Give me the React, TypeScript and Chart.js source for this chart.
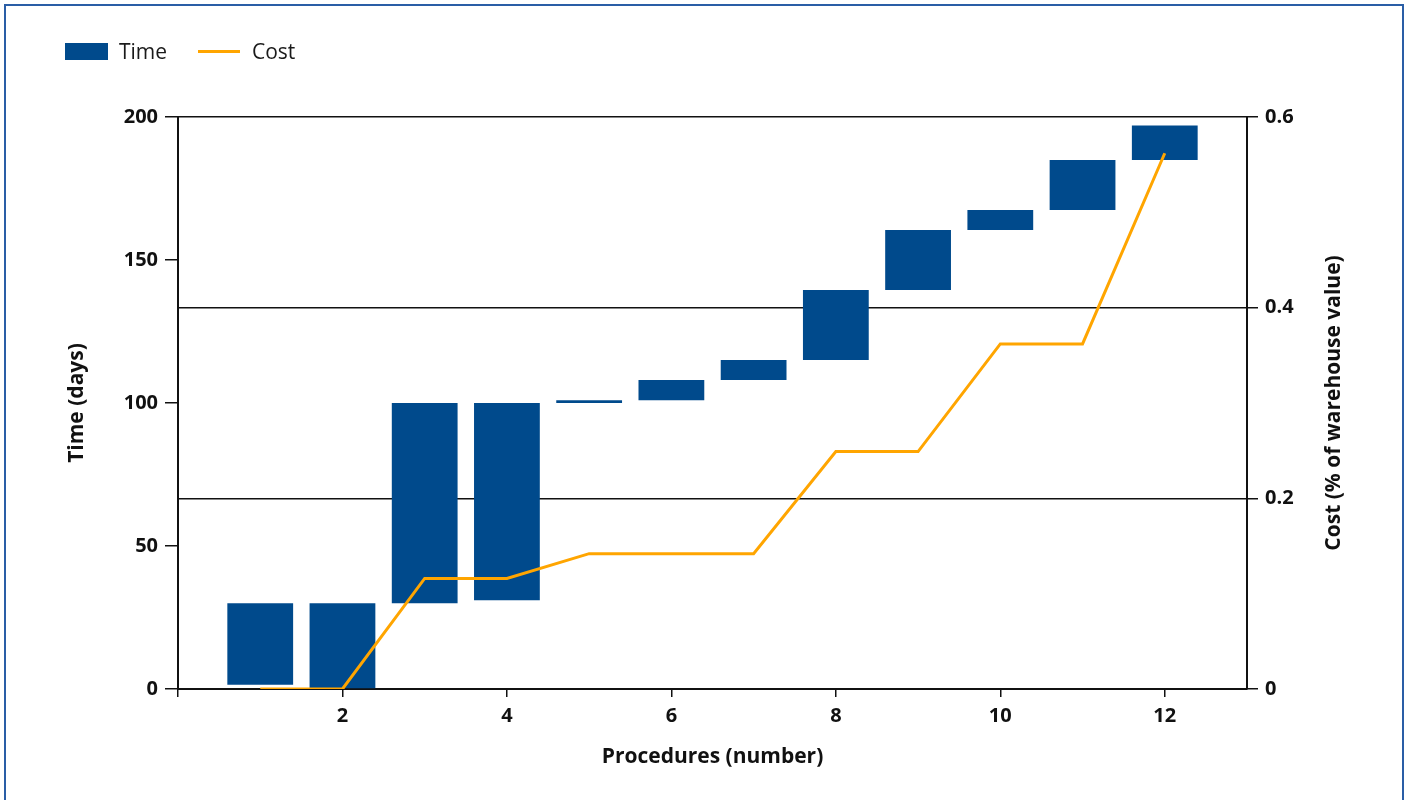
import React, { useEffect, useRef } from 'react';
import { Chart, registerables } from 'chart.js';

Chart.register(...registerables);

const procedures = [1, 2, 3, 4, 5, 6, 7, 8, 9, 10, 11, 12];
const timeStart = [1.5, 0, 30, 31, 100, 101, 108, 115, 139.5, 160.5, 167.5, 185];
const timeEnd = [30, 30, 100, 100, 101, 108, 115, 139.5, 160.5, 167.5, 185, 197];
const costValues = [0, 0, 0.116, 0.116, 0.142, 0.142, 0.142, 0.249, 0.249, 0.362, 0.362, 0.562];

const xTitle = 'Procedures (number)';
const yTitle = 'Time (days)';
const y1Title = 'Cost (% of warehouse value)';
const seriesNames = ['Time', 'Cost'];

const FONT = "'Open Sans', 'Noto Sans', sans-serif";
const INK = '#111111';
const BLUE = '#004a8c';
const ORANGE = '#ffa500';

const rightTitlePlugin = {
  id: 'rightTitle',
  afterDraw(chart: any) {
    const { ctx, chartArea } = chart;
    ctx.save();
    ctx.translate(1334, (chartArea.top + chartArea.bottom) / 2);
    ctx.rotate(-Math.PI / 2);
    ctx.font = `bold 21px ${FONT}`;
    ctx.fillStyle = INK;
    ctx.textAlign = 'center';
    ctx.textBaseline = 'middle';
    ctx.fillText(y1Title, 0, 0);
    ctx.restore();
  },
};

export default function App() {
  const canvasRef = useRef<HTMLCanvasElement | null>(null);

  useEffect(() => {
    if (!canvasRef.current) return;
    const tickFont = { family: FONT, size: 20, weight: 'bold' as const };
    const titleFont = { family: FONT, size: 21, weight: 'bold' as const };
    const chart = new Chart(canvasRef.current, {
      type: 'bar',
      data: {
        datasets: [
          {
            type: 'line',
            label: seriesNames[1],
            data: procedures.map((p, i) => ({ x: p, y: costValues[i] })),
            borderColor: ORANGE,
            backgroundColor: ORANGE,
            borderWidth: 3,
            pointRadius: 0,
            fill: false,
            tension: 0,
            yAxisID: 'y1',
            order: 0,
          } as any,
          {
            type: 'bar',
            label: seriesNames[0],
            data: procedures.map((p, i) => ({ x: p, y: [timeStart[i], timeEnd[i]] })),
            backgroundColor: BLUE,
            borderWidth: 0,
            barPercentage: 0.8,
            categoryPercentage: 1,
            yAxisID: 'y',
            order: 1,
          } as any,
        ],
      },
      options: {
        animation: false,
        responsive: false,
        maintainAspectRatio: false,
        layout: { padding: { left: 64, right: 0, top: 117, bottom: 30 } },
        plugins: {
          legend: { display: false },
          tooltip: { enabled: false },
          title: { display: false },
        },
        scales: {
          x: {
            type: 'linear',
            position: 'bottom',
            min: 0,
            max: 13,
            offset: false,
            ticks: {
              stepSize: 2,
              includeBounds: false,
              autoSkip: false,
              maxRotation: 0,
              padding: 7,
              color: INK,
              font: tickFont,
              callback: (v: any) => (v === 0 ? '' : String(v)),
            },
            grid: { offset: false, drawOnChartArea: false, tickLength: 8, color: INK, lineWidth: 1.5 },
            border: { color: INK, width: 2 },
            title: { display: true, text: xTitle, color: INK, font: titleFont, padding: { top: 0, bottom: 0 } },
            afterFit: (s: any) => {
              s.height = 81;
            },
          },
          y: {
            type: 'linear',
            position: 'left',
            min: 0,
            max: 200,
            ticks: { stepSize: 50, padding: 7, color: INK, font: tickFont },
            grid: { drawOnChartArea: false, tickLength: 13, color: INK, lineWidth: 1.5 },
            border: { color: INK, width: 2 },
            title: { display: true, text: yTitle, color: INK, font: titleFont, padding: { top: 0, bottom: 0 } },
            afterFit: (s: any) => {
              s.width = 114;
            },
          },
          y1: {
            type: 'linear',
            position: 'right',
            min: 0,
            max: 0.6,
            ticks: {
              stepSize: 0.2,
              padding: 7,
              color: INK,
              font: tickFont,
              callback: (v: any) => String(+Number(v).toFixed(1)),
            },
            grid: { drawOnChartArea: true, tickLength: 11, color: INK, lineWidth: 1.5 },
            border: { color: INK, width: 2 },
            afterFit: (s: any) => {
              s.width = 159;
            },
          },
        },
      } as any,
      plugins: [rightTitlePlugin],
    });
    return () => chart.destroy();
  }, []);

  const legendText: React.CSSProperties = {
    position: 'absolute',
    top: 37,
    height: 28,
    lineHeight: '28px',
    fontFamily: FONT,
    fontSize: 21,
    color: '#1a1a1a',
    whiteSpace: 'nowrap',
  };

  return (
    <div style={{ position: 'fixed', left: 0, top: 0, width: 1406, height: 800, background: '#ffffff', overflow: 'hidden' }}>
      <div
        style={{
          position: 'absolute',
          left: 4,
          top: 4,
          width: 1400,
          height: 830,
          border: '2px solid #2a5ea6',
          boxSizing: 'border-box',
        }}
      />
      <canvas ref={canvasRef} width={1406} height={800} style={{ position: 'absolute', left: 0, top: 0, display: 'block' }} />
      <div style={{ position: 'absolute', left: 65, top: 43, width: 43, height: 17, background: BLUE }} />
      <div style={{ ...legendText, left: 119 }}>{seriesNames[0]}</div>
      <div style={{ position: 'absolute', left: 198, top: 50, width: 42, height: 3, background: ORANGE }} />
      <div style={{ ...legendText, left: 252 }}>{seriesNames[1]}</div>
    </div>
  );
}
